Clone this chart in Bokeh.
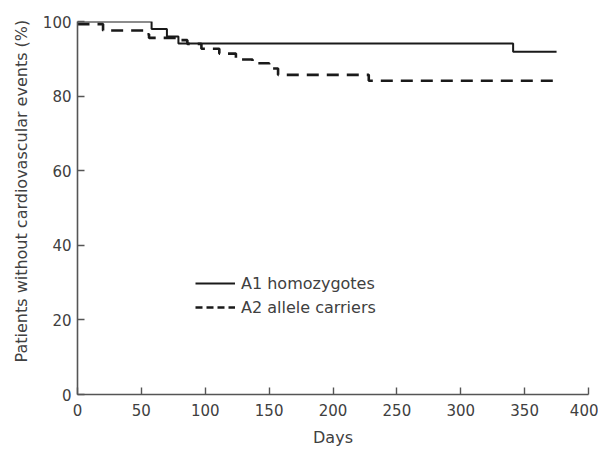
from bokeh.plotting import figure
from bokeh.models import Range1d, Legend, LegendItem, ColumnDataSource, Title
from bokeh.embed import file_html
from bokeh.resources import INLINE

# ---- data ----
a1_days = [0, 58, 70, 79, 341]
a1_surv = [100, 98.0, 96.0, 94.1, 91.9]
a1_end = 375

a2_days = [0, 20, 52, 56, 80, 86, 97, 111, 124, 137, 150, 157, 228]
a2_surv = [99.3, 97.6, 96.6, 95.6, 95.0, 94.0, 92.7, 91.4, 89.8, 88.8, 87.4, 85.7, 84.1]
a2_end = 375

x_ticks = [0, 50, 100, 150, 200, 250, 300, 350, 400]
y_ticks = [0, 20, 40, 60, 80, 100]

x_title = "Days"
y_title = "Patients without cardiovascular events (%)"
series_names = ["A1 homozygotes", "A2 allele carriers"]

FONT = "DejaVu Sans"
TXT = "#404040"
AX = "#555555"


def steps(days, surv, end):
    xs = list(days) + [end]
    ys = list(surv) + [surv[-1]]
    return xs, ys


p = figure(width=598, height=449,
           x_range=Range1d(0, 400), y_range=Range1d(0, 100),
           output_backend="svg", toolbar_location=None,
           min_border_left=77, min_border_right=10,
           min_border_top=21, min_border_bottom=55)
p.outline_line_color = None
p.xgrid.visible = False
p.ygrid.visible = False
p.background_fill_color = "white"
p.border_fill_color = "white"

for ax in (p.xaxis[0], p.yaxis[0]):
    ax.axis_line_color = AX
    ax.axis_line_width = 1.6
    ax.major_tick_line_color = AX
    ax.major_tick_line_width = 1.4
    ax.major_tick_in = 7
    ax.major_tick_out = 0
    ax.minor_tick_line_color = None
    ax.major_label_text_font = FONT
    ax.major_label_text_font_size = "15px"
    ax.major_label_text_color = TXT

p.xaxis.ticker = x_ticks
p.yaxis.ticker = y_ticks
p.xaxis.major_label_standoff = 9
p.yaxis.major_label_standoff = 6

p.xaxis.axis_label = x_title
p.xaxis.axis_label_text_font = FONT
p.xaxis.axis_label_text_font_size = "16px"
p.xaxis.axis_label_text_font_style = "normal"
p.xaxis.axis_label_text_color = TXT
p.xaxis.axis_label_standoff = 9

ytitle = Title(text=y_title, align="left", offset=32, standoff=18,
               text_font=FONT, text_font_size="16px",
               text_font_style="normal", text_color=TXT)
p.add_layout(ytitle, "left")

xs1, ys1 = steps(a1_days, a1_surv, a1_end)
xs2, ys2 = steps(a2_days, a2_surv, a2_end)
p.step(xs1, ys1, mode="after", line_color="#1a1a1a", line_width=2.0)
p.step(xs2, ys2, mode="after", line_color="#1a1a1a", line_width=2.6,
       line_dash="12 8")

# legend samples (off-range renderers so the legend dash can be finer)
offsrc = ColumnDataSource(data=dict(x=[-60, -50], y=[-60, -60]))
r1 = p.line("x", "y", source=offsrc, line_color="#1a1a1a", line_width=2.2)
r2 = p.line("x", "y", source=offsrc, line_color="#1a1a1a", line_width=2.4,
            line_dash="7 4")
leg = Legend(items=[LegendItem(label=series_names[0], renderers=[r1]),
                    LegendItem(label=series_names[1], renderers=[r2])],
             location=(118, 77))
leg.padding = 0
leg.margin = 0
leg.spacing = 4
leg.glyph_width = 40
leg.glyph_height = 20
leg.label_height = 20
leg.label_standoff = 6
leg.border_line_color = None
leg.background_fill_alpha = 0
leg.label_text_font = FONT
leg.label_text_font_size = "16px"
leg.label_text_color = TXT
p.add_layout(leg)

open("out.html", "w").write(file_html(p, INLINE))
